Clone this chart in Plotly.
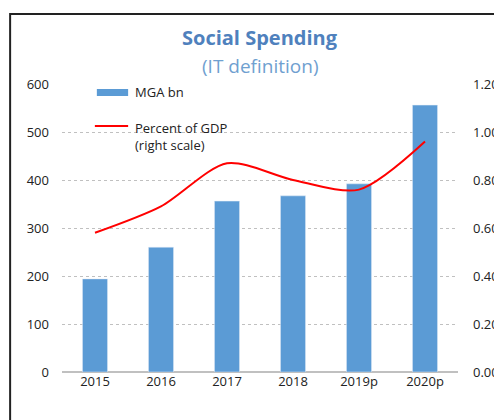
import plotly.graph_objects as go

years = ["2015", "2016", "2017", "2018", "2019p", "2020p"]
mga_bn = [194, 260, 356, 367, 392, 556]
pct_gdp = [0.58, 0.69, 0.87, 0.80, 0.76, 0.96]

bar_name = "MGA bn"
line_name = "Percent of GDP<br>(right scale)"
bar_color = "#5b9bd5"
line_color = "#ff0000"

font = "Open Sans, Noto Sans, sans-serif"

fig = go.Figure()
fig.add_trace(go.Bar(x=years, y=mga_bn, name=bar_name, marker_color=bar_color, width=0.38))
fig.add_trace(go.Scatter(x=years, y=pct_gdp, name=line_name, mode="lines",
                         line=dict(color=line_color, width=2, shape="spline", smoothing=0.8),
                         yaxis="y2"))

# page body has an 8px margin, so margins are shifted by 8px
fig.update_layout(
    width=502, height=420,
    margin=dict(l=54, r=52, t=76, b=56),
    paper_bgcolor="white", plot_bgcolor="white",
    font=dict(family=font, size=13, color="#222222"),
    showlegend=False,
    xaxis=dict(showline=False, ticks="", tickfont=dict(size=13)),
    yaxis=dict(range=[0, 600], dtick=100, showgrid=True, gridcolor="#c0c0c0", griddash="dot",
               zeroline=True, zerolinecolor="#c0c0c0", ticks="", ticklabelstandoff=12),
    yaxis2=dict(range=[0, 1.2], dtick=0.2, tickformat=".2f", overlaying="y", side="right",
                showgrid=False, zeroline=False, ticks="", ticklabelstandoff=14),
    annotations=[
        dict(text="<b>Social Spending</b>", x=0.5, y=1.0, xref="paper", yref="paper", yshift=47,
             yanchor="middle", showarrow=False, font=dict(size=20, color="#4f81bd", family=font)),
        dict(text="(IT definition)", x=0.5, y=1.0, xref="paper", yref="paper", yshift=18,
             yanchor="middle", showarrow=False, font=dict(size=19, color="#6fa0d0", family=font)),
        dict(text=bar_name, x=0.179, y=0.972, xref="paper", yref="paper", xanchor="left",
             yanchor="middle", showarrow=False, font=dict(size=13, color="#222222")),
        dict(text=line_name, x=0.179, y=0.885, xref="paper", yref="paper", xanchor="left",
             yanchor="top", align="left", showarrow=False, font=dict(size=13, color="#222222")),
    ],
    shapes=[
        dict(type="rect", xref="paper", yref="paper", x0=-0.131, y0=-0.3, x1=1.3, y1=1.243,
             line=dict(color="#222222", width=2)),
        dict(type="rect", xref="paper", yref="paper", x0=0.088, y0=0.958, x1=0.167, y1=0.983,
             fillcolor=bar_color, line=dict(width=0)),
        dict(type="line", xref="paper", yref="paper", x0=0.083, y0=0.854, x1=0.167, y1=0.854,
             line=dict(color=line_color, width=2)),
    ],
)

fig.write_html("out.html")
